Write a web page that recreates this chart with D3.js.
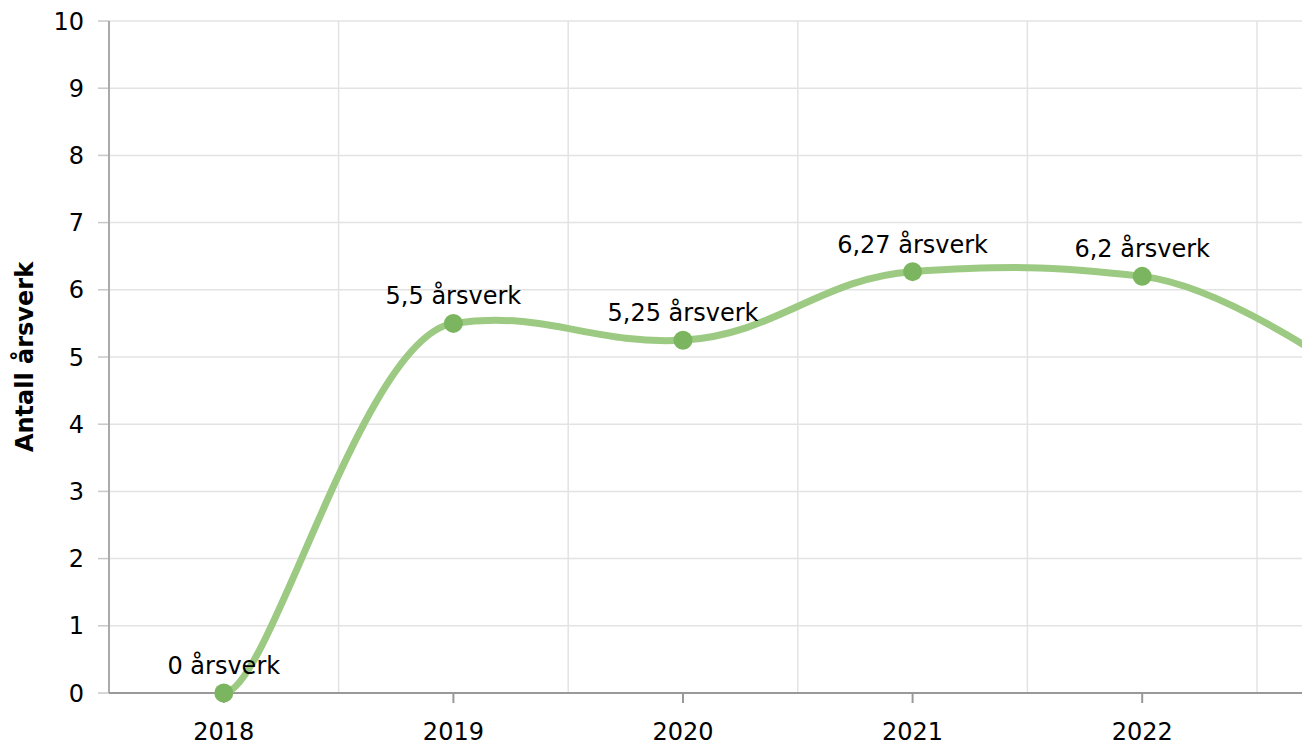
<!DOCTYPE html>
<html>
<head>
<meta charset="utf-8">
<script src="https://cdn.jsdelivr.net/npm/d3@7"></script>
<style>
  html, body { margin: 0; padding: 0; background: #fff; overflow: hidden; }
  text { font-family: "DejaVu Sans", Verdana, sans-serif; fill: #000; }
</style>
</head>
<body>
<div id="chart"></div>
<script>
// data (2023 is past the right edge, estimated from the curve)
const years = ['2018', '2019', '2020', '2021', '2022', '2023'];
const values = [0, 5.5, 5.25, 6.27, 6.2, 4.5];
const yTicks = [0, 1, 2, 3, 4, 5, 6, 7, 8, 9, 10];
const unit = 'årsverk';
const yTitle = 'Antall årsverk';

const W = 1302, H = 744;
const plotLeft = 109, plotTop = 21, plotBottom = 693;
const step = 229.6;

// softer spline than d3's catmull-rom: chordal direction, halved slope,
// flat short handle on the first point
function softSpline(context) {
  let pts = [];
  function slopeAt(i) {
    const p0 = pts[i - 1], p1 = pts[i], p2 = pts[i + 1];
    const l01 = Math.hypot(p1[0] - p0[0], p1[1] - p0[1]);
    const l12 = Math.hypot(p2[0] - p1[0], p2[1] - p1[1]);
    const a = 2 * l01 * l01 + 3 * l01 * l12 + l12 * l12;
    const n = 3 * l01 * (l01 + l12);
    const cx = (p1[0] * a - p0[0] * l12 * l12 + p2[0] * l01 * l01) / n;
    const cy = (p1[1] * a - p0[1] * l12 * l12 + p2[1] * l01 * l01) / n;
    return 0.5 * (cy - p1[1]) / (cx - p1[0]);
  }
  return {
    areaStart() {}, areaEnd() {},
    lineStart() { pts = []; },
    point(x, y) { pts.push([+x, +y]); },
    lineEnd() {
      const last = pts.length - 1;
      context.moveTo(pts[0][0], pts[0][1]);
      for (let i = 0; i < last; i++) {
        const p1 = pts[i], p2 = pts[i + 1];
        const h = p2[0] - p1[0];
        let c1, c2;
        if (i === 0) c1 = [p1[0] + 0.2 * h, p1[1]];
        else { const s = slopeAt(i); c1 = [p1[0] + 0.4 * h, p1[1] + s * 0.4 * h]; }
        if (i + 1 === last) c2 = [p2[0], p2[1]];
        else { const s = slopeAt(i + 1); c2 = [p2[0] - 0.4 * h, p2[1] - s * 0.4 * h]; }
        context.bezierCurveTo(c1[0], c1[1], c2[0], c2[1], p2[0], p2[1]);
      }
    }
  };
}

const svg = d3.select('#chart').append('svg')
  .attr('width', W)
  .attr('height', H);

const x = d3.scaleBand()
  .domain(years)
  .range([plotLeft, plotLeft + step * years.length]);

const y = d3.scaleLinear()
  .domain([0, 10])
  .range([plotBottom, plotTop]);

const cx = d => x(d) + x.bandwidth() / 2;

// horizontal grid
svg.append('g')
  .selectAll('line')
  .data(yTicks.slice(1))
  .enter()
  .append('line')
  .attr('x1', plotLeft)
  .attr('x2', W)
  .attr('y1', d => y(d))
  .attr('y2', d => y(d))
  .attr('stroke', '#e3e3e3')
  .attr('stroke-width', 1.5);

// y tick marks
svg.append('g')
  .selectAll('line')
  .data(yTicks)
  .enter()
  .append('line')
  .attr('x1', plotLeft - 11)
  .attr('x2', plotLeft)
  .attr('y1', d => y(d))
  .attr('y2', d => y(d))
  .attr('stroke', '#c8c8c8')
  .attr('stroke-width', 1.5);

// vertical grid at band edges
svg.append('g')
  .selectAll('line')
  .data(years.slice(1))
  .enter()
  .append('line')
  .attr('x1', d => x(d))
  .attr('x2', d => x(d))
  .attr('y1', plotTop)
  .attr('y2', plotBottom)
  .attr('stroke', '#e3e3e3')
  .attr('stroke-width', 1.5);

// y axis line
svg.append('line')
  .attr('x1', plotLeft).attr('x2', plotLeft)
  .attr('y1', plotTop).attr('y2', plotBottom)
  .attr('stroke', '#aaa')
  .attr('stroke-width', 2);

// x axis line
svg.append('line')
  .attr('x1', plotLeft).attr('x2', W)
  .attr('y1', plotBottom).attr('y2', plotBottom)
  .attr('stroke', '#999')
  .attr('stroke-width', 2);

// x ticks + labels
const xt = svg.append('g')
  .selectAll('g')
  .data(years)
  .enter()
  .append('g');

xt.append('line')
  .attr('x1', d => cx(d)).attr('x2', d => cx(d))
  .attr('y1', plotBottom).attr('y2', plotBottom + 10)
  .attr('stroke', '#999')
  .attr('stroke-width', 2);

xt.append('text')
  .attr('x', d => cx(d))
  .attr('y', 740)
  .attr('text-anchor', 'middle')
  .style('font-size', '24px')
  .text(d => d);

// y labels
svg.append('g')
  .selectAll('text')
  .data(yTicks)
  .enter()
  .append('text')
  .attr('x', 84)
  .attr('y', d => y(d))
  .attr('dy', '0.36em')
  .attr('text-anchor', 'end')
  .style('font-size', '24px')
  .text(d => d);

// axis title
svg.append('text')
  .attr('transform', 'translate(33,357) rotate(-90)')
  .attr('text-anchor', 'middle')
  .style('font-size', '24px')
  .style('font-weight', 'bold')
  .text(yTitle);

const pts = years.map((d, i) => ({year: d, value: values[i]}));

const line = d3.line()
  .x(d => cx(d.year))
  .y(d => y(d.value))
  .curve(softSpline);

svg.append('path')
  .datum(pts)
  .attr('d', line)
  .attr('fill', 'none')
  .attr('stroke', '#9cca82')
  .attr('stroke-width', 7)
  .attr('stroke-linecap', 'round');

svg.append('g')
  .selectAll('circle')
  .data(pts)
  .enter()
  .append('circle')
  .attr('cx', d => cx(d.year))
  .attr('cy', d => y(d.value))
  .attr('r', 9.5)
  .attr('fill', '#7cb55f');

svg.append('g')
  .selectAll('text')
  .data(pts)
  .enter()
  .append('text')
  .attr('x', d => cx(d.year))
  .attr('y', d => y(d.value) - 19)
  .attr('text-anchor', 'middle')
  .style('font-size', '24px')
  .text(d => String(d.value).replace('.', ',') + ' ' + unit);
</script>
</body>
</html>
